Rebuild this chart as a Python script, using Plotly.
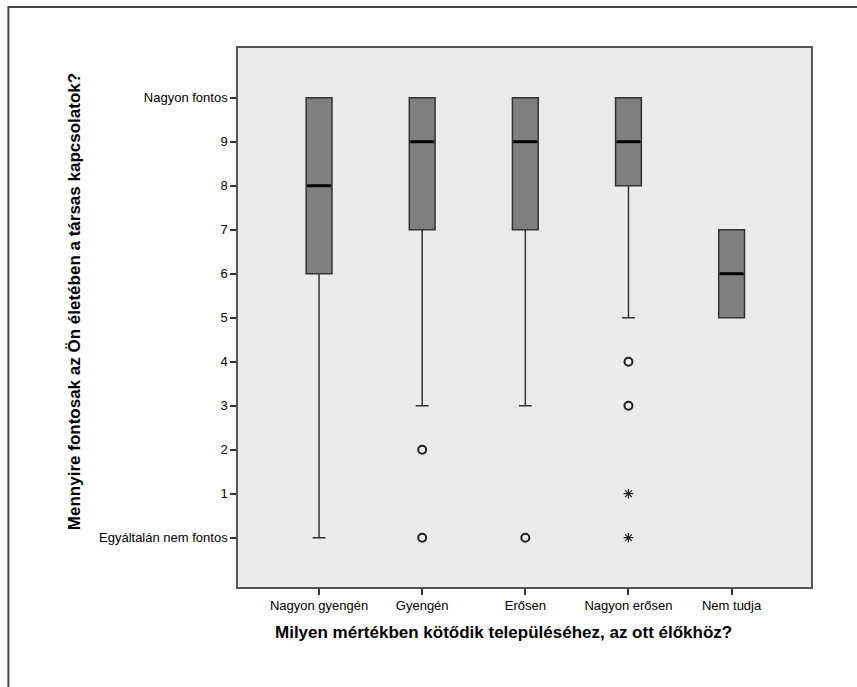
import plotly.graph_objects as go

categories = ["Nagyon gyengén", "Gyengén", "Erősen", "Nagyon erősen", "Nem tudja"]
q1 = [6, 7, 7, 8, 5]
median = [8, 9, 9, 9, 6]
q3 = [10, 10, 10, 10, 7]
lower_whisker = [0, 3, 3, 5, 5]
upper_whisker = [10, 10, 10, 10, 7]

# outliers (circles) and extremes (stars): category index, value
outlier_cat = [1, 1, 2, 3, 3]
outlier_val = [2, 0, 0, 4, 3]
extreme_cat = [3, 3]
extreme_val = [1, 0]

y_tick_vals = [0, 1, 2, 3, 4, 5, 6, 7, 8, 9, 10]
y_tick_text = ["Egyáltalán nem fontos", "1", "2", "3", "4", "5", "6", "7", "8", "9", "Nagyon fontos"]

x_title = "Milyen mértékben kötődik településéhez, az ott élőkhöz?"
y_title = "Mennyire fontosak az Ön életében a társas kapcsolatok?"

BOX_W = 0.25
pos = list(range(len(categories)))

fig = go.Figure()
fig.add_trace(go.Box(
    x=pos, q1=q1, median=median, q3=q3,
    lowerfence=lower_whisker, upperfence=upper_whisker,
    width=BOX_W, whiskerwidth=0.5,
    fillcolor="#808080", line=dict(color="#333333", width=1.5),
    boxpoints=False, showlegend=False, hoverinfo="skip",
))

# thick median lines
mx, my = [], []
for p, m in zip(pos, median):
    mx += [p - BOX_W / 2 + 0.01, p + BOX_W / 2 - 0.01, None]
    my += [m, m, None]
fig.add_trace(go.Scatter(x=mx, y=my, mode="lines",
                         line=dict(color="black", width=3),
                         showlegend=False, hoverinfo="skip"))

fig.add_trace(go.Scatter(x=outlier_cat, y=outlier_val, mode="markers",
                         marker=dict(symbol="circle-open", size=8,
                                     line=dict(color="#222", width=2), color="#222"),
                         showlegend=False, hoverinfo="skip"))
fig.add_trace(go.Scatter(x=extreme_cat, y=extreme_val, mode="markers",
                         marker=dict(symbol="asterisk-open", size=8,
                                     line=dict(color="#222", width=1.2), color="#222"),
                         showlegend=False, hoverinfo="skip"))

FONT = "Liberation Sans, Arial, sans-serif"

fig.update_layout(
    width=857, height=687,
    margin=dict(l=238, r=46, t=48, b=100),
    paper_bgcolor="white", plot_bgcolor="#EBEBEB",
    font=dict(family=FONT, size=13, color="black"),
    xaxis=dict(range=[-0.786, 4.77], tickmode="array", tickvals=pos, ticktext=categories,
               ticks="outside", ticklen=6, tickcolor="#333", tickwidth=1.5,
               showgrid=False, zeroline=False, showline=True, mirror=True,
               linecolor="#555", linewidth=1.5, tickfont=dict(size=13, color="black")),
    yaxis=dict(range=[-1.12, 11.13], tickmode="array", tickvals=y_tick_vals, ticktext=y_tick_text,
               ticks="outside", ticklen=6, tickcolor="#333", tickwidth=1.5,
               showgrid=False, zeroline=False, showline=True, mirror=True,
               linecolor="#555", linewidth=1.5, tickfont=dict(size=13, color="black")),
    annotations=[
        dict(text="<b>" + x_title + "</b>", xref="paper", yref="paper",
             x=0.464, y=-0.0835, showarrow=False, xanchor="center", yanchor="middle",
             font=dict(size=17, family=FONT, color="black")),
        dict(text="<b>" + y_title + "</b>", xref="paper", yref="paper",
             x=-0.284, y=0.529, showarrow=False, xanchor="center", yanchor="middle",
             textangle=-90, font=dict(size=17, family=FONT, color="black")),
    ],
    shapes=[dict(type="rect", xref="paper", yref="paper",
                 x0=-0.4007, x1=1.12, y0=-0.25, y1=1.076,
                 line=dict(color="#444", width=2), layer="below")],
)

fig.write_html("out.html", config={"displayModeBar": False},
               post_script="document.body.style.margin='0';")
